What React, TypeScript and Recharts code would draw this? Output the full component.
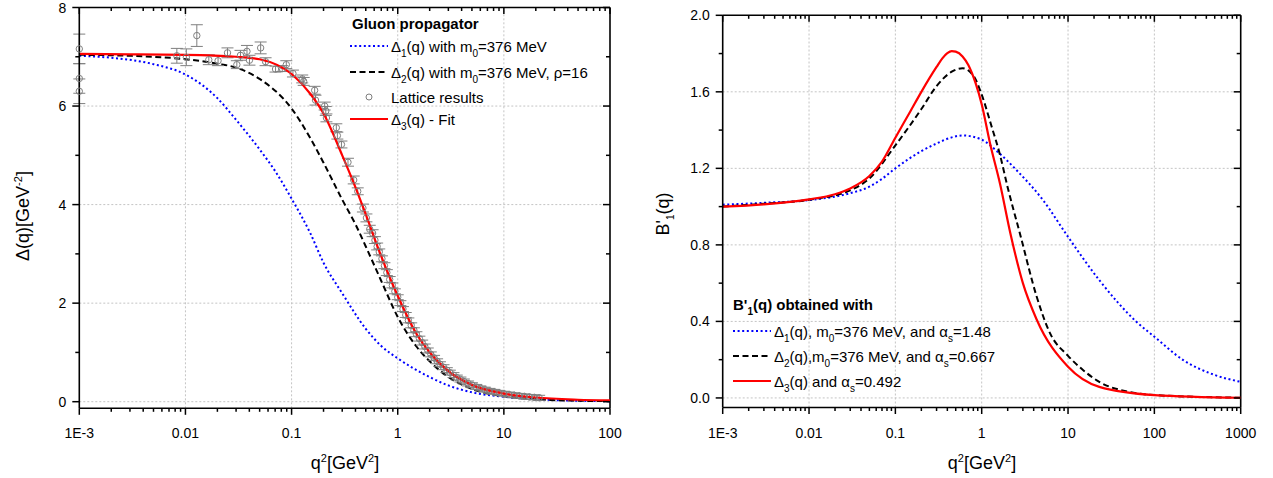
import React from 'react';
import { ComposedChart, Line, Scatter, XAxis, YAxis, ReferenceLine, ErrorBar } from 'recharts';

const FONT = '"Liberation Sans", Arial, sans-serif';

// axes
const xMajorL = [0.001, 0.01, 0.1, 1, 10, 100];
const xMajorR = [0.001, 0.01, 0.1, 1, 10, 100, 1000];
const xLabels: Record<string, string> = { '0.001': '1E-3', '0.01': '0.01', '0.1': '0.1', '1': '1', '10': '10', '100': '100', '1000': '1000' };
const yMajorL = [0, 2, 4, 6, 8];
const yMinorL = [1, 3, 5, 7];
const yLabelsL = ['0', '2', '4', '6', '8'];
const yMajorR = [0, 0.4, 0.8, 1.2, 1.6, 2.0];
const yMinorR = [0.2, 0.6, 1.0, 1.4, 1.8];
const yLabelsR = ['0.0', '0.4', '0.8', '1.2', '1.6', '2.0'];

// left panel: gluon propagator
const q2D1 = [0.001, 0.002, 0.005, 0.01, 0.02, 0.03, 0.05, 0.07, 0.1, 0.15, 0.2, 0.3, 0.5, 0.7, 1, 2, 3, 5, 10, 20, 50, 100];
const d1 = [7.02, 6.98, 6.85, 6.64, 6.16, 5.72, 5.12, 4.68, 4.12, 3.42, 2.82, 2.2, 1.48, 1.13, 0.88, 0.5, 0.33, 0.19, 0.1, 0.05, 0.02, 0.01];
const q2D2 = [0.001, 0.003, 0.01, 0.02, 0.03, 0.05, 0.1, 0.15, 0.2, 0.3, 0.4, 0.5, 0.7, 1, 1.5, 2, 3, 5, 10, 20, 50, 100];
const d2 = [7.04, 7.02, 6.95, 6.86, 6.78, 6.55, 5.95, 5.35, 4.85, 4.1, 3.6, 3.15, 2.45, 1.72, 1.12, 0.82, 0.5, 0.26, 0.11, 0.05, 0.02, 0.01];
const q2D3 = [0.001, 0.003, 0.01, 0.03, 0.05, 0.1, 0.15, 0.2, 0.3, 0.4, 0.5, 0.7, 1, 1.5, 2, 3, 5, 10, 20, 50, 100];
const d3 = [7.06, 7.05, 7.04, 7.0, 6.95, 6.65, 6.25, 5.85, 5.0, 4.35, 3.8, 2.95, 2.15, 1.38, 1.0, 0.62, 0.34, 0.165, 0.085, 0.04, 0.025];

const latticeQ2 = [
  0.001, 0.001, 0.001, 0.0083, 0.0102, 0.0128, 0.0166, 0.0203, 0.0249, 0.0305, 0.033, 0.038, 0.0401, 0.0511, 0.0569,
  0.0706, 0.0817, 0.0892, 0.103, 0.126, 0.13, 0.165, 0.168, 0.205, 0.21, 0.213, 0.264, 0.27, 0.295, 0.34, 0.385, 0.42,
  0.47, 0.507, 0.545, 0.58, 0.61, 0.64, 0.67, 0.71, 0.75, 0.79, 0.84, 0.89, 0.94, 1.0, 1.06, 1.12, 1.19, 1.26, 1.34,
  1.42, 1.5, 1.6, 1.7, 1.8, 1.92, 2.05, 2.2, 2.35, 2.5, 2.7, 2.9, 3.1, 3.35, 3.6, 3.9, 4.2, 4.6, 5.0, 5.5, 6.0, 6.6,
  7.3, 8.1, 9.0, 10, 11.2, 12.5, 14, 15.6, 17.4, 19.4, 21.5,
];
const latticeVal = [
  7.16, 6.56, 6.3, 7.02, 6.99, 7.43, 6.94, 6.92, 7.08, 6.84, 7.03, 7.11, 6.93, 7.18, 6.9,
  6.75, 6.76, 6.84, 6.66, 6.55, 6.5, 6.32, 6.12, 6.0, 5.9, 5.76, 5.56, 5.4, 5.22, 4.86, 4.5, 4.27,
  3.93, 3.73, 3.5, 3.42, 3.28, 3.15, 3.04, 2.9, 2.76, 2.62, 2.48, 2.36, 2.24, 2.12, 2.0, 1.88, 1.76, 1.65, 1.55,
  1.45, 1.37, 1.28, 1.2, 1.12, 1.04, 0.96, 0.89, 0.82, 0.76, 0.7, 0.64, 0.59, 0.54, 0.49, 0.45, 0.41, 0.37, 0.335, 0.3, 0.27, 0.245,
  0.22, 0.2, 0.18, 0.162, 0.145, 0.13, 0.118, 0.107, 0.097, 0.088, 0.08,
];
const latticeErr = [
  0.3, 0.3, 0.25, 0.15, 0.17, 0.22, 0.1, 0.1, 0.1, 0.08, 0.1, 0.12, 0.1, 0.12, 0.08,
  0.06, 0.06, 0.08, 0.07, 0.08, 0.08, 0.08, 0.1, 0.08, 0.09, 0.08, 0.08, 0.07, 0.07, 0.08, 0.08, 0.07,
  0.08, 0.08, 0.08, 0.07, 0.07, 0.07, 0.06, 0.06, 0.06, 0.06, 0.06, 0.05, 0.05, 0.05, 0.05, 0.05, 0.05, 0.05, 0.05,
  0.05, 0.05, 0.05, 0.05, 0.05, 0.05, 0.05, 0.05, 0.05, 0.05, 0.05, 0.05, 0.05, 0.05, 0.05, 0.05, 0.05, 0.05, 0.05, 0.05, 0.05, 0.05,
  0.05, 0.05, 0.05, 0.05, 0.05, 0.05, 0.05, 0.05, 0.05, 0.05, 0.05,
];

// right panel: B'1(q)
const q2B1 = [0.001, 0.003, 0.01, 0.03, 0.05, 0.07, 0.1, 0.2, 0.3, 0.45, 0.6, 1, 1.5, 2.54, 5.13, 10, 23, 62, 100, 216, 500, 1000];
const b1 = [1.01, 1.02, 1.034, 1.07, 1.104, 1.145, 1.2, 1.29, 1.33, 1.362, 1.372, 1.35, 1.29, 1.19, 1.034, 0.842, 0.616, 0.398, 0.32, 0.198, 0.12, 0.084];
const q2B2 = [0.001, 0.003, 0.01, 0.03, 0.05, 0.1, 0.2, 0.3, 0.45, 0.6, 0.8, 1, 1.3, 1.63, 2.0, 2.77, 4.33, 6.16, 10, 15, 23, 50, 100, 1000];
const b2 = [1.0, 1.015, 1.036, 1.085, 1.147, 1.32, 1.51, 1.63, 1.705, 1.723, 1.685, 1.585, 1.42, 1.27, 1.1, 0.86, 0.53, 0.34, 0.22, 0.145, 0.084, 0.032, 0.015, 0.001];
const q2B3 = [0.001, 0.003, 0.01, 0.02, 0.03, 0.05, 0.07, 0.1, 0.15, 0.2, 0.3, 0.35, 0.4, 0.45, 0.5, 0.6, 0.7, 0.85, 1, 1.25, 1.63, 2.15, 3, 4.33, 10, 23, 100, 1000];
const b3 = [1.0, 1.012, 1.038, 1.065, 1.095, 1.16, 1.235, 1.36, 1.5, 1.6, 1.73, 1.775, 1.802, 1.813, 1.81, 1.785, 1.74, 1.645, 1.535, 1.33, 1.12, 0.86, 0.6, 0.41, 0.163, 0.058, 0.015, 0.001];

const toPts = (xs: number[], ys: number[]) => xs.map((x, i) => ({ x, y: ys[i] }));

const minorDecades = (majors: number[]) => {
  const out: number[] = [];
  for (let i = 0; i < majors.length - 1; i++) for (let k = 2; k <= 9; k++) out.push(majors[i] * k);
  return out;
};

const AX = { stroke: '#000', strokeWidth: 1.6 };
const GRID = { stroke: '#c4c4c4', strokeDasharray: '2 2', strokeWidth: 1 };

// axis only writes the labels
const xLabel = (majors: number[]) => (props: any) => {
  const { x, y, payload } = props;
  if (!majors.some((m) => Math.abs(m - payload.value) <= m * 1e-9)) return <g />;
  return (
    <text x={x} y={y + 25} textAnchor="middle" dominantBaseline="central" fontSize={14} fontFamily={FONT} fill="#000">
      {xLabels[String(payload.value)]}
    </text>
  );
};

const yLabel = (majors: number[], labels: string[]) => (props: any) => {
  const { x, y, payload } = props;
  const idx = majors.findIndex((m) => Math.abs(m - payload.value) < 1e-9);
  if (idx < 0) return <g />;
  return (
    <text x={x - 13} y={y} textAnchor="end" dominantBaseline="central" fontSize={14} fontFamily={FONT} fill="#000">
      {labels[idx]}
    </text>
  );
};

// frame tick marks as points on the frame edges: bottom/left point out, top/right point in
const frameTickPoints = (xMaj: number[], yMaj: number[], yMin: number[], xDom: number[], yDom: number[]) => {
  const pts: any[] = [];
  const xt = [...xMaj.map((v) => [v, 6.5]), ...minorDecades(xMaj).map((v) => [v, 3.5])];
  const yt = [...yMaj.map((v) => [v, 7]), ...yMin.map((v) => [v, 4])];
  xt.forEach(([v, len]) => {
    pts.push({ x: v, y: yDom[0], len, side: 'b' });
    pts.push({ x: v, y: yDom[1], len, side: 't' });
  });
  yt.forEach(([v, len]) => {
    pts.push({ x: xDom[0], y: v, len, side: 'l' });
    pts.push({ x: xDom[1], y: v, len, side: 'r' });
  });
  return pts;
};

const tickShape = (p: any) => {
  const { cx, cy, payload } = p;
  const { len, side } = payload;
  const s = { stroke: '#000', strokeWidth: 1.5 };
  if (side === 'b') return <line x1={cx} x2={cx} y1={cy} y2={cy + len} {...s} />;
  if (side === 't') return <line x1={cx} x2={cx} y1={cy} y2={cy + len} {...s} />;
  if (side === 'l') return <line x1={cx} x2={cx - len} y1={cy} y2={cy} {...s} />;
  return <line x1={cx} x2={cx - len} y1={cy} y2={cy} {...s} />;
};

const Sample = ({ color, dash, width = 2, dot = false }: any) => (
  <svg width={38} height={12} style={{ display: 'block', flex: 'none' }}>
    {dot ? (
      <circle cx={19} cy={6} r={3} fill="none" stroke="#7f7f7f" />
    ) : (
      <line x1={0} x2={38} y1={6} y2={6} stroke={color} strokeWidth={width} strokeDasharray={dash} />
    )}
  </svg>
);

const Sub = ({ children }: any) => (
  <span style={{ fontSize: 10, position: 'relative', top: 5 }}>{children}</span>
);
const Sup = ({ children }: any) => (
  <span style={{ fontSize: 11, position: 'relative', top: -7 }}>{children}</span>
);

const Row = ({ left, top, sample, children }: any) => (
  <div style={{ position: 'absolute', left, top: top - 10, height: 20, display: 'flex', alignItems: 'center', whiteSpace: 'nowrap', fontSize: 15, fontFamily: FONT }}>
    {sample}
    <span style={{ marginLeft: 3 }}>{children}</span>
  </div>
);

const dotDash = '2 2.6';
const dashDash = '6 3.5';

const domXL = [0.001, 100];
const domYL = [-0.134, 8];
const domXR = [0.001, 1000];
const domYR = [-0.05, 2.0];

export default function App() {
  const line1L = toPts(q2D1, d1);
  const line2L = toPts(q2D2, d2);
  const line3L = toPts(q2D3, d3);
  const lattice = latticeQ2.map((x, i) => ({ x, y: latticeVal[i], err: latticeErr[i] }));
  const line1R = toPts(q2B1, b1);
  const line2R = toPts(q2B2, b2);
  const line3R = toPts(q2B3, b3);
  const ticksL = frameTickPoints(xMajorL, yMajorL, yMinorL, domXL, domYL);
  const ticksR = frameTickPoints(xMajorR, yMajorR, yMinorR, domXR, domYR);

  return (
    <div style={{ position: 'absolute', left: 0, top: 0, width: 1273, height: 478, background: '#fff', fontFamily: FONT, color: '#000' }}>
      <div style={{ position: 'absolute', left: 0, top: 0 }}>
        <ComposedChart width={640} height={478} margin={{ top: 7.5, right: 30, bottom: 0, left: 0 }}>
          <XAxis dataKey="x" type="number" scale="log" domain={domXL}
            ticks={xMajorL} interval={0} tickSize={0} tickMargin={0} tickLine={false}
            tick={xLabel(xMajorL)} axisLine={AX} height={69.7} />
          <YAxis type="number" domain={domYL} ticks={yMajorL} interval={0}
            tickSize={0} tickMargin={0} tickLine={false} tick={yLabel(yMajorL, yLabelsL)} axisLine={AX} width={79.3} />
          {[0.01, 0.1, 1, 10].map((v) => <ReferenceLine key={'vx' + v} x={v} {...GRID} />)}
          {[0, 2, 4, 6].map((v) => <ReferenceLine key={'hy' + v} y={v} {...GRID} />)}
          <ReferenceLine y={8} {...AX} />
          <ReferenceLine x={100} {...AX} />
          <Scatter data={ticksL} dataKey="y" shape={tickShape} isAnimationActive={false} />
          <Line data={line1L} dataKey="y" type="monotone" stroke="#0000ff" strokeWidth={2} strokeDasharray={dotDash} dot={false} isAnimationActive={false} />
          <Line data={line2L} dataKey="y" type="monotone" stroke="#000" strokeWidth={2} strokeDasharray={dashDash} dot={false} isAnimationActive={false} />
          <Scatter data={lattice} dataKey="y" isAnimationActive={false}
            shape={(p: any) => <circle cx={p.cx} cy={p.cy} r={3.2} fill="none" stroke="#7f7f7f" strokeWidth={1} />}>
            <ErrorBar dataKey="err" direction="y" width={6} stroke="#7f7f7f" strokeWidth={1} isAnimationActive={false} />
          </Scatter>
          <Line data={line3L} dataKey="y" type="monotone" stroke="#ff0000" strokeWidth={2.2} dot={false} isAnimationActive={false} />
        </ComposedChart>
      </div>

      <div style={{ position: 'absolute', left: 640, top: 0 }}>
        <ComposedChart width={633} height={478} margin={{ top: 15.3, right: 32.3, bottom: 0, left: 0 }}>
          <XAxis dataKey="x" type="number" scale="log" domain={domXR}
            ticks={xMajorR} interval={0} tickSize={0} tickMargin={0} tickLine={false}
            tick={xLabel(xMajorR)} axisLine={AX} height={70.5} />
          <YAxis type="number" domain={domYR} ticks={yMajorR} interval={0}
            tickSize={0} tickMargin={0} tickLine={false} tick={yLabel(yMajorR, yLabelsR)} axisLine={AX} width={82.7} />
          {[0.01, 0.1, 1, 10, 100].map((v) => <ReferenceLine key={'vx' + v} x={v} {...GRID} />)}
          {[0, 0.4, 0.8, 1.2, 1.6].map((v) => <ReferenceLine key={'hy' + v} y={v} {...GRID} />)}
          <ReferenceLine y={2.0} {...AX} />
          <ReferenceLine x={1000} {...AX} />
          <Scatter data={ticksR} dataKey="y" shape={tickShape} isAnimationActive={false} />
          <Line data={line1R} dataKey="y" type="monotone" stroke="#0000ff" strokeWidth={2} strokeDasharray={dotDash} dot={false} isAnimationActive={false} />
          <Line data={line2R} dataKey="y" type="monotone" stroke="#000" strokeWidth={2} strokeDasharray={dashDash} dot={false} isAnimationActive={false} />
          <Line data={line3R} dataKey="y" type="monotone" stroke="#ff0000" strokeWidth={2.2} dot={false} isAnimationActive={false} />
        </ComposedChart>
      </div>

      {/* axis titles */}
      <div style={{ position: 'absolute', left: 23, top: 216, transform: 'translate(-50%, -50%) rotate(-90deg)', whiteSpace: 'nowrap', fontSize: 18 }}>
        Δ(q)[GeV<Sup>-2</Sup>]
      </div>
      <div style={{ position: 'absolute', left: 345, top: 463, transform: 'translate(-50%, -50%)', whiteSpace: 'nowrap', fontSize: 18 }}>
        q<Sup>2</Sup>[GeV<Sup>2</Sup>]
      </div>
      <div style={{ position: 'absolute', left: 663, top: 214, transform: 'translate(-50%, -50%) rotate(-90deg)', whiteSpace: 'nowrap', fontSize: 18 }}>
        B'<Sub>1</Sub>(q)
      </div>
      <div style={{ position: 'absolute', left: 982, top: 463, transform: 'translate(-50%, -50%)', whiteSpace: 'nowrap', fontSize: 18 }}>
        q<Sup>2</Sup>[GeV<Sup>2</Sup>]
      </div>

      {/* left legend */}
      <div style={{ position: 'absolute', left: 352, top: 15, fontSize: 15, fontWeight: 'bold', whiteSpace: 'nowrap' }}>Gluon propagator</div>
      <Row left={350} top={46} sample={<Sample color="#0000ff" dash={dotDash} />}>
        Δ<Sub>1</Sub>(q) with m<Sub>0</Sub>=376 MeV
      </Row>
      <Row left={350} top={72} sample={<Sample color="#000" dash={dashDash} />}>
        Δ<Sub>2</Sub>(q) with m<Sub>0</Sub>=376 MeV, ρ=16
      </Row>
      <Row left={350} top={97} sample={<Sample dot />}>
        Lattice results
      </Row>
      <Row left={350} top={119} sample={<Sample color="#ff0000" width={2.2} />}>
        Δ<Sub>3</Sub>(q) - Fit
      </Row>

      {/* right legend */}
      <div style={{ position: 'absolute', left: 733, top: 296, fontSize: 15, fontWeight: 'bold', whiteSpace: 'nowrap' }}>
        B'<Sub>1</Sub>(q) obtained with
      </div>
      <Row left={733} top={331} sample={<Sample color="#0000ff" dash={dotDash} />}>
        Δ<Sub>1</Sub>(q), m<Sub>0</Sub>=376 MeV, and α<Sub>s</Sub>=1.48
      </Row>
      <Row left={733} top={356} sample={<Sample color="#000" dash={dashDash} />}>
        Δ<Sub>2</Sub>(q),m<Sub>0</Sub>=376 MeV, and α<Sub>s</Sub>=0.667
      </Row>
      <Row left={733} top={381} sample={<Sample color="#ff0000" width={2.2} />}>
        Δ<Sub>3</Sub>(q) and α<Sub>s</Sub>=0.492
      </Row>
    </div>
  );
}
